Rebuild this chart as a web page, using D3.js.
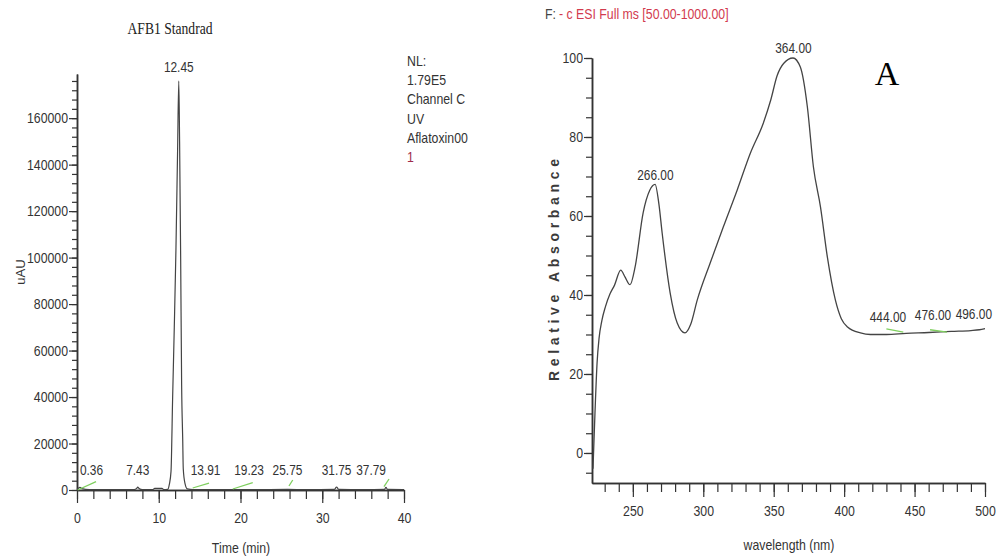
<!DOCTYPE html>
<html>
<head>
<meta charset="utf-8">
<script src="https://cdn.jsdelivr.net/npm/d3@7"></script>
<style>
  body { margin: 0; background: #fff; }
  svg { display: block; }
</style>
</head>
<body>
<svg id="chart" width="1000" height="558"></svg>
<script>
// ---- data ----
// left: HPLC chromatogram, AFB1 standard
let chromTime   = [0, 0.2, 0.36, 0.6, 1.5, 3, 5, 7.0, 7.3, 7.43, 7.6, 8, 9.3, 9.5, 10.4, 10.6, 11.1, 11.3, 11.5, 11.7, 11.9, 12.1, 12.3, 12.45, 12.55, 12.68, 12.8, 12.93, 13.0, 13.2, 13.5, 14.2, 16, 19.23, 22, 25.75, 28, 31.5, 31.75, 32.0, 35, 37.6, 37.79, 38.0, 40];
let chromSignal = [300, 900, 1100, 600, 200, 150, 150, 200, 700, 1200, 600, 200, 200, 700, 700, 200, 300, 2500, 8000, 40000, 70000, 103000, 145000, 176000, 150000, 100000, 45000, 22000, 9000, 3000, 500, 200, 150, 200, 150, 250, 150, 300, 1300, 300, 150, 250, 1100, 250, 200];
let chromPeaks  = [0.36, 7.43, 12.45, 13.91, 19.23, 25.75, 31.75, 37.79];
let chromPeakAnchor = ["start", "middle", "middle", "start", "start", "middle", "middle", "end"];
// integration marks [t0, v0, t1, v1]
let chromMarks = [[0.08, 0, 2.33, 3570], [14.15, 860, 16.15, 3000], [19.05, 430, 21.5, 3140], [25.93, 1720, 26.39, 4300], [37.55, 1420, 38.17, 4730]];
let chromXTicks = [0, 10, 20, 30, 40];
let chromYTicks = [0, 20000, 40000, 60000, 80000, 100000, 120000, 140000, 160000];
let chromInfo = ["NL:", "1.79E5", "Channel C", "UV", "Aflatoxin00", "1"];

// right: UV spectrum
let waveLength = [221.7, 223.1, 224.6, 226, 228, 230.5, 233.8, 237, 241.4, 244.5, 248, 251.6, 257.3, 262, 265.8, 268.5, 270.8, 276.5, 281.5, 287, 291, 295.7, 304.9, 314.2, 324.1, 333.4, 342.6, 348, 352.4, 357, 363.7, 368.9, 373.9, 378.2, 383.2, 388.1, 393.8, 398, 402.4, 411.6, 418.7, 430, 444, 460, 476, 490, 496, 500];
let absorbance = [-4, 10, 22.8, 29, 33.5, 37, 40.3, 42.5, 46.3, 44.5, 42.6, 47.1, 60.8, 66.5, 68, 63, 55.7, 40.5, 32.9, 30.4, 32.5, 38.7, 48.1, 57.2, 66.6, 75.9, 83.5, 89.5, 95.5, 98.6, 100, 97.7, 87.6, 72.4, 62.3, 49.6, 38.7, 34, 31.9, 30.4, 30, 30, 30.3, 30.5, 30.8, 31, 31.2, 31.5];
let specPeaks = [266, 364, 444, 476, 496];
let specPeakAnchor = ["middle", "middle", "end", "end", "end"];
let specMarks = [[430, 31.4, 442, 30.6], [461, 31.2, 473, 30.6]];
let specXTicks = [250, 300, 350, 400, 450, 500];
let specYTicks = [0, 20, 40, 60, 80, 100];

let sans = "'Liberation Sans', Arial, sans-serif";
let serif = "'Liberation Serif', 'Times New Roman', serif";
let axisColor = "#333";
let lineColor = "#444";
let markGreen = "#7fcf5f";

let svg = d3.select("#chart");

// squeeze Arial-like text to look like Arial Narrow
function narrowText(sel, size) {
	sel.style("font-family", sans)
		.style("font-size", size + "px")
		.each(function() {
			let w = this.getComputedTextLength();
			d3.select(this)
				.attr("textLength", w*0.82)
				.attr("lengthAdjust", "spacingAndGlyphs");
		});
}

function styleAxis(g) {
	g.select(".domain").attr("stroke", axisColor).attr("stroke-width", 1.5);
	g.selectAll(".tick line").attr("stroke", axisColor).attr("stroke-width", 1.2);
	g.selectAll("text").attr("fill", axisColor).call(narrowText, 15);
}

function valueAt(xs, ys, x) {
	let i = xs.indexOf(x);
	if (i >= 0) return ys[i];
	let j = d3.bisectLeft(xs, x);
	let t = (x - xs[j-1]) / (xs[j] - xs[j-1]);
	return ys[j-1] + t*(ys[j] - ys[j-1]);
}

// ================= left chart =================
let cx = d3.scaleLinear().domain([0, 40]).range([77, 404]);
let cy = d3.scaleLinear().domain([0, 179000]).range([490, 74]);

svg.append("g")
	.attr("transform", "translate(0,490)")
	.call(d3.axisBottom(cx).tickValues(d3.range(0, 41, 2)).tickSize(9).tickFormat("").tickSizeOuter(0))
	.call(styleAxis);
svg.append("g")
	.attr("transform", "translate(0,490)")
	.call(d3.axisBottom(cx).tickValues(chromXTicks).tickSize(13).tickPadding(9).tickSizeOuter(0))
	.call(styleAxis);

svg.append("g")
	.attr("transform", "translate(77,0)")
	.call(d3.axisLeft(cy).tickValues(d3.range(0, 176001, 4000)).tickSize(5).tickFormat("").tickSizeOuter(0))
	.call(styleAxis);
svg.append("g")
	.attr("transform", "translate(77,0)")
	.call(d3.axisLeft(cy).tickValues(chromYTicks).tickSize(8).tickPadding(1).tickFormat(d3.format("d")).tickSizeOuter(0))
	.call(styleAxis);

let chromData = chromTime.map((t, i) => ({t: t, v: chromSignal[i]}));
let chromLine = d3.line()
	.x(d => cx(d.t))
	.y(d => cy(d.v))
	.curve(d3.curveMonotoneX);

svg.append("path")
	.attr("d", chromLine(chromData))
	.attr("fill", "none")
	.attr("stroke", lineColor)
	.attr("stroke-width", 1.2);

svg.selectAll(".chrom-mark")
	.data(chromMarks)
	.enter().append("line")
	.attr("class", "chrom-mark")
	.attr("x1", d => cx(d[0])).attr("y1", d => cy(d[1]))
	.attr("x2", d => cx(d[2])).attr("y2", d => cy(d[3]))
	.attr("stroke", markGreen)
	.attr("stroke-width", 1.3);

// peak labels
svg.selectAll(".chrom-peak")
	.data(chromPeaks)
	.enter().append("text")
	.attr("class", "chrom-peak")
	.attr("x", d => cx(d))
	.attr("y", d => d == 12.45 ? 72 : 475)
	.attr("text-anchor", (d, i) => chromPeakAnchor[i])
	.attr("fill", axisColor)
	.text(d => d.toFixed(2))
	.call(narrowText, 14.5);

// title
svg.append("text")
	.attr("x", 170)
	.attr("y", 34)
	.attr("text-anchor", "middle")
	.attr("textLength", 85)
	.attr("lengthAdjust", "spacingAndGlyphs")
	.attr("fill", "#222")
	.style("font-family", serif)
	.style("font-size", "16px")
	.text("AFB1 Standrad");

// info block
svg.selectAll(".info")
	.data(chromInfo)
	.enter().append("text")
	.attr("class", "info")
	.attr("x", 407)
	.attr("y", (d, i) => 66 + i*19.2)
	.attr("fill", (d, i) => i == chromInfo.length - 1 ? "#a02b4b" : "#333")
	.text(d => d)
	.call(narrowText, 15);

// axis titles
svg.append("text")
	.attr("x", 241)
	.attr("y", 553)
	.attr("text-anchor", "middle")
	.attr("fill", axisColor)
	.text("Time (min)")
	.call(narrowText, 15);

svg.append("text")
	.attr("transform", "translate(25,272) rotate(-90)")
	.attr("text-anchor", "middle")
	.attr("fill", axisColor)
	.style("font-family", sans)
	.style("font-size", "13px")
	.text("uAU");

// ================= right chart =================
let sx = d3.scaleLinear().domain([221, 500]).range([592, 985]);
let sy = d3.scaleLinear().domain([-7.6, 100]).range([483, 58]);

svg.append("g")
	.attr("transform", "translate(0,483)")
	.call(d3.axisBottom(sx).tickValues(d3.range(230, 501, 10)).tickSize(9).tickFormat("").tickSizeOuter(0))
	.call(styleAxis);
svg.append("g")
	.attr("transform", "translate(0,483)")
	.call(d3.axisBottom(sx).tickValues(specXTicks).tickSize(14).tickPadding(8).tickSizeOuter(0))
	.call(styleAxis);

svg.append("g")
	.attr("transform", "translate(592,0)")
	.call(d3.axisLeft(sy).tickValues(d3.range(-5, 101, 5)).tickSize(6).tickFormat("").tickSizeOuter(0))
	.call(styleAxis);
svg.append("g")
	.attr("transform", "translate(592,0)")
	.call(d3.axisLeft(sy).tickValues(specYTicks).tickSize(8).tickPadding(1).tickSizeOuter(0))
	.call(styleAxis);

let specData = waveLength.map((w, i) => ({w: w, v: absorbance[i]}));
let specLine = d3.line()
	.x(d => sx(d.w))
	.y(d => sy(d.v))
	.curve(d3.curveMonotoneX);

svg.append("path")
	.attr("d", specLine(specData))
	.attr("fill", "none")
	.attr("stroke", lineColor)
	.attr("stroke-width", 1.3);

svg.selectAll(".spec-mark")
	.data(specMarks)
	.enter().append("line")
	.attr("class", "spec-mark")
	.attr("x1", d => sx(d[0])).attr("y1", d => sy(d[1]))
	.attr("x2", d => sx(d[2])).attr("y2", d => sy(d[3]))
	.attr("stroke", markGreen)
	.attr("stroke-width", 1.3);

// last label would run past the plot edge, so it ends near the axis end instead
svg.selectAll(".spec-peak")
	.data(specPeaks)
	.enter().append("text")
	.attr("class", "spec-peak")
	.attr("x", (d, i) => i == specPeaks.length - 1 ? sx(500) + 7 : sx(d))
	.attr("y", d => sy(valueAt(waveLength, absorbance, d)) - (d > 400 ? 11 : 6))
	.attr("text-anchor", (d, i) => specPeakAnchor[i])
	.attr("fill", axisColor)
	.text(d => d.toFixed(2))
	.call(narrowText, 14.5);

// title: "F:" dark, the rest red
svg.append("text")
	.attr("x", 545)
	.attr("y", 19)
	.attr("fill", "#444")
	.text("F:")
	.call(narrowText, 15);
svg.append("text")
	.attr("x", 559)
	.attr("y", 19)
	.attr("fill", "#d23a4e")
	.text("- c ESI Full ms [50.00-1000.00]")
	.call(narrowText, 15);

svg.append("text")
	.attr("x", 789)
	.attr("y", 550)
	.attr("text-anchor", "middle")
	.attr("fill", axisColor)
	.text("wavelength (nm)")
	.call(narrowText, 15);

svg.append("text")
	.attr("transform", "translate(559,270) rotate(-90)")
	.attr("text-anchor", "middle")
	.attr("textLength", 222)
	.attr("fill", "#3a3a3a")
	.style("font-family", sans)
	.style("font-weight", "bold")
	.style("font-size", "14px")
	.text("Relative Absorbance");

// panel letter
svg.append("text")
	.attr("x", 887)
	.attr("y", 85)
	.attr("text-anchor", "middle")
	.attr("fill", "#000")
	.style("font-family", serif)
	.style("font-size", "34px")
	.text("A");
</script>
</body>
</html>
